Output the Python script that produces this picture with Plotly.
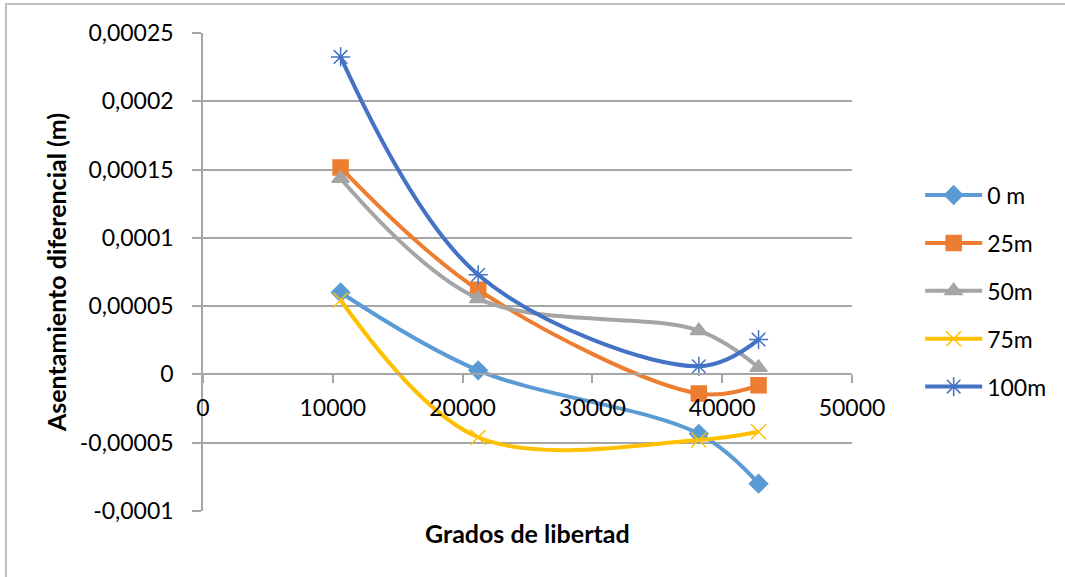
import plotly.graph_objects as go

# ---- data ----
grados = [10600, 21200, 38200, 42800]
series_names = ["0 m", "25m", "50m", "75m", "100m"]
s0 = [0.0000600, 0.0000030, -0.0000435, -0.0000800]
s25 = [0.0001515, 0.0000620, -0.0000140, -0.0000080]
s50 = [0.0001435, 0.0000555, 0.0000320, 0.0000050]
s75 = [0.0000545, -0.0000460, -0.0000480, -0.0000420]
s100 = [0.0002325, 0.0000730, 0.0000060, 0.0000255]
series_values = [s0, s25, s50, s75, s100]

y_tickvals = [0.00025, 0.0002, 0.00015, 0.0001, 0.00005, 0, -0.00005, -0.0001]
y_ticktext = ["0,00025", "0,0002", "0,00015", "0,0001", "0,00005", "0", "-0,00005", "-0,0001"]
x_tickvals = [0, 10000, 20000, 30000, 40000, 50000]
x_ticktext = ["0", "10000", "20000", "30000", "40000", "50000"]

colors = ["#5B9BD5", "#ED7D31", "#A5A5A5", "#FFC000", "#4472C4"]
symbols = ["diamond", "square", "triangle-up", "x-thin-open", "asterisk-open"]
msizes = [14, 15, 15, 15, 16]

FONT = "Lato, Open Sans, sans-serif"
GRID = "#A6A6A6"

fig = go.Figure()
for name, vals, c, sym, ms in zip(series_names, series_values, colors, symbols, msizes):
    fig.add_trace(go.Scatter(
        x=grados, y=vals, name=name, mode="lines+markers",
        line=dict(color=c, width=4, shape="spline", smoothing=1),
        marker=dict(symbol=sym, size=ms, color=c, line=dict(color=c, width=1.5)),
        legendgroup=name,
    ))

ymin, ymax = -0.0001, 0.00025
fig.update_layout(
    width=1065, height=577,
    margin=dict(l=203, r=213, t=33, b=66, autoexpand=False),
    paper_bgcolor="white", plot_bgcolor="white",
    font=dict(family=FONT, size=23, color="black"),
    showlegend=True,
    legend=dict(x=1.105, y=0.706, xanchor="left", yanchor="top",
                font=dict(family=FONT, size=23), tracegroupgap=15,
                bgcolor="rgba(0,0,0,0)", itemwidth=57),
    xaxis=dict(range=[0, 50000], tickvals=x_tickvals, ticktext=x_ticktext,
               showgrid=False, zeroline=False, showline=True, linecolor=GRID, linewidth=1.5,
               ticks="outside", ticklen=8, tickcolor=GRID, tickwidth=1.5,
               ticklabelstandoff=5,
               anchor="free", position=(0 - ymin) / (ymax - ymin),
               tickfont=dict(family=FONT, size=23)),
    yaxis=dict(range=[ymin, ymax], tickvals=y_tickvals, ticktext=y_ticktext,
               showgrid=True, gridcolor=GRID, gridwidth=1.5, zeroline=False,
               showline=True, linecolor=GRID, linewidth=1.5,
               ticks="outside", ticklen=9, tickcolor=GRID, tickwidth=1.5,
               ticklabelstandoff=14,
               tickfont=dict(family=FONT, size=23),
               title=dict(text="<b>Asentamiento diferencial (m)</b>", standoff=6,
                          font=dict(family=FONT, size=25))),
    annotations=[dict(text="<b>Grados de libertad</b>", x=0.5, y=-0.046,
                      xref="paper", yref="paper", xanchor="center", yanchor="middle",
                      showarrow=False, font=dict(family=FONT, size=25))],
    shapes=[dict(type="rect", xref="paper", yref="paper",
                 x0=(6 - 203) / 649, x1=(1080 - 203) / 649,
                 y0=(511 - 590) / 478, y1=(511 - 4) / 478,
                 line=dict(color="#BFBFBF", width=2), layer="below")],
)

fig.write_html("out.html", config={"displayModeBar": False},
               post_script="document.body.style.margin='0';document.body.style.overflow='hidden';")
